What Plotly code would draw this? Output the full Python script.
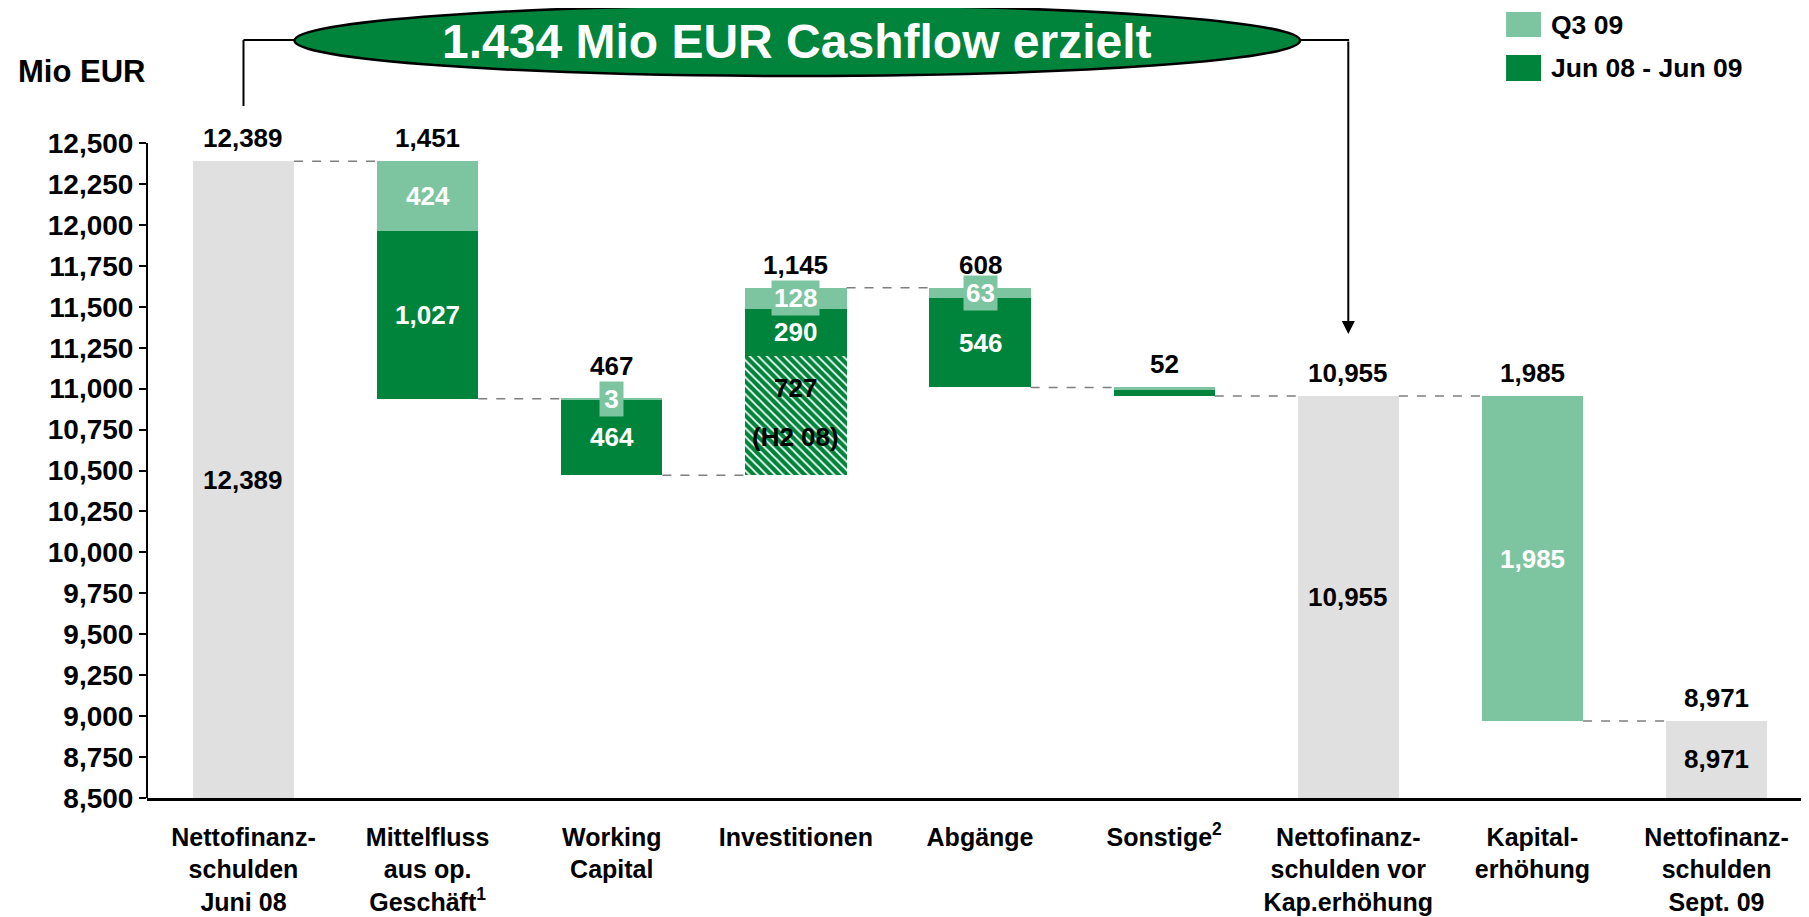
import plotly.graph_objects as go

# --- data ---
categories = [
    "Nettofinanz-<br>schulden<br>Juni 08",
    "Mittelfluss<br>aus op.<br>Geschäft<sup>1</sup>",
    "Working<br>Capital",
    "Investitionen",
    "Abgänge",
    "Sonstige<sup>2</sup>",
    "Nettofinanz-<br>schulden vor<br>Kap.erhöhung",
    "Kapital-<br>erhöhung",
    "Nettofinanz-<br>schulden<br>Sept. 09",
]
kind = ["total", "change", "change", "change", "change", "change", "total", "change", "total"]
totals = [12389, None, None, None, None, None, 10955, None, 8971]
direction = [0, -1, -1, 1, -1, -1, 0, -1, 0]
q3_09 = [0, 424, 3, 128, 63, 14, 0, 1985, 0]
jun08_jun09 = [0, 1027, 464, 290, 546, 38, 0, 0, 0]
h2_08 = [0, 0, 0, 727, 0, 0, 0, 0, 0]
change_labels = ["", "1,451", "467", "1,145", "608", "52", "", "1,985", ""]
total_labels = ["12,389", "", "", "", "", "", "10,955", "", "8,971"]
y_ticks = list(range(8500, 12501, 250))

GRAY = "#e0e0e0"
DARK = "#00833b"
LIGHT = "#7dc5a0"
FONT = "Liberation Sans, Arial, sans-serif"
AXIS_MIN = 8500
BAR_W = 0.55

# walk the waterfall
n = len(categories)
tops, bottoms, ends = [], [], []
level = None
for i in range(n):
    if kind[i] == "total":
        tops.append(totals[i])
        bottoms.append(AXIS_MIN)
        level = totals[i]
    else:
        step = q3_09[i] + jun08_jun09[i] + h2_08[i]
        new = level + direction[i] * step
        tops.append(max(level, new))
        bottoms.append(min(level, new))
        level = new
    ends.append(level)

x = list(range(n))
fig = go.Figure()

tot_x = [i for i in x if kind[i] == "total"]
fig.add_trace(go.Bar(
    x=tot_x, y=[tops[i] - AXIS_MIN for i in tot_x], base=AXIS_MIN,
    width=BAR_W, marker=dict(color=GRAY, line=dict(width=0)),
    hoverinfo="skip", showlegend=False))

# hatched H2 08 part sits at the bottom
fig.add_trace(go.Bar(
    x=x, y=h2_08, base=bottoms, width=BAR_W,
    marker=dict(color=DARK, line=dict(width=0),
                pattern=dict(shape="\\", fgcolor="white", bgcolor=DARK,
                             size=6, solidity=0.3, fillmode="replace")),
    hoverinfo="skip", showlegend=False))

# Jun 08 - Jun 09 under the Q3 09 slice
fig.add_trace(go.Bar(
    x=x, y=jun08_jun09, base=[tops[i] - q3_09[i] - jun08_jun09[i] for i in x],
    width=BAR_W, marker=dict(color=DARK, line=dict(width=0)),
    hoverinfo="skip", showlegend=False))

fig.add_trace(go.Bar(
    x=x, y=q3_09, base=[tops[i] - q3_09[i] for i in x],
    width=BAR_W, marker=dict(color=LIGHT, line=dict(width=0)),
    hoverinfo="skip", showlegend=False))

shapes = []
annotations = []

# dashed connectors between bars
for i in range(n - 1):
    shapes.append(dict(type="line", xref="x", yref="y",
                       x0=i + BAR_W / 2, x1=i + 1 - BAR_W / 2, y0=ends[i], y1=ends[i],
                       line=dict(color="#7f7f7f", width=1.5, dash="dash")))

# y axis line only from 8,500 to 12,500
shapes.append(dict(type="line", xref="paper", yref="y", x0=0, x1=0,
                   y0=y_ticks[0], y1=y_ticks[-1], line=dict(color="black", width=2)))


def lbl(xv, yv, text, color="black", yshift=0, bg=None):
    annotations.append(dict(
        x=xv, y=yv, xref="x", yref="y", text=f"<b>{text}</b>", showarrow=False,
        xanchor="center", yanchor="middle",
        font=dict(family=FONT, size=26, color=color),
        bgcolor=bg, borderpad=2, yshift=yshift))


for i in x:
    # value above the bar
    top_text = total_labels[i] or change_labels[i]
    shift = 33 if i == 2 else 23
    lbl(i, tops[i], top_text, yshift=shift)
    if kind[i] == "total":
        lbl(i, (tops[i] + bottoms[i]) / 2, total_labels[i])
        continue
    q_mid = tops[i] - q3_09[i] / 2
    j_mid = tops[i] - q3_09[i] - jun08_jun09[i] / 2
    if q3_09[i] >= 300:
        lbl(i, q_mid, f"{q3_09[i]:,}", color="white")
    elif q3_09[i] >= 3 and jun08_jun09[i] > 0 and i != 5:
        lbl(i, q_mid, f"&#8202;{q3_09[i]:,}&#8202;" if q3_09[i] < 10 else f"{q3_09[i]:,}",
            color="white", bg=LIGHT)
    if jun08_jun09[i] >= 200:
        lbl(i, j_mid, f"{jun08_jun09[i]:,}", color="white")
    if h2_08[i]:
        mid = bottoms[i] + h2_08[i] / 2
        lbl(i, mid, f"{h2_08[i]:,}", yshift=28)
        lbl(i, mid, "(H2 08)", yshift=-21)

# page body adds an 8px offset; positions below are screen px
OFF = 8
W, H = 1809 - OFF, 917 - OFF
PL, PR, PT, PB = 146.5 - OFF, W, 0, 798 - OFF


def px(xp):
    return (xp - OFF - PL) / (PR - PL)


def py(yp):
    return (PB - (yp - OFF)) / (PB - PT)


# banner
shapes.append(dict(type="circle", xref="paper", yref="paper",
                   x0=px(294), x1=px(1300), y0=py(76), y1=py(5),
                   fillcolor=DARK, line=dict(color="black", width=2.5)))
annotations.append(dict(x=px(797), y=py(41), xref="paper", yref="paper",
                        xanchor="center", yanchor="middle",
                        text="<b>1.434 Mio EUR Cashflow erzielt</b>", showarrow=False,
                        font=dict(family=FONT, size=48, color="white")))
shapes.append(dict(type="line", xref="x", yref="paper", x0=0, x1=0,
                   y0=py(40), y1=py(106), line=dict(color="black", width=2)))
shapes.append(dict(type="line", xref="paper", yref="paper", x0=px(243), x1=px(294),
                   y0=py(40), y1=py(40), line=dict(color="black", width=2)))
shapes.append(dict(type="line", xref="paper", yref="paper", x0=px(1300), x1=px(1349),
                   y0=py(40), y1=py(40), line=dict(color="black", width=2)))
annotations.append(dict(x=6, y=py(334), xref="x", yref="paper", ax=0, ay=-294,
                        text="", showarrow=True, arrowhead=2, arrowsize=1.3,
                        arrowwidth=2, arrowcolor="black", standoff=0))

annotations.append(dict(x=px(15), y=py(72), xref="paper", yref="paper",
                        xanchor="left", yanchor="middle",
                        text="<b>Mio EUR</b>", showarrow=False,
                        font=dict(family=FONT, size=31, color="black")))

# legend drawn by hand
for (y0, y1, col, name) in [(12, 37, LIGHT, "Q3 09"), (55, 81, DARK, "Jun 08 - Jun 09")]:
    shapes.append(dict(type="rect", xref="paper", yref="paper", x0=px(1506), x1=px(1541),
                       y0=py(y1), y1=py(y0), fillcolor=col, line=dict(width=0)))
    annotations.append(dict(x=px(1549), y=py((y0 + y1) / 2), xref="paper", yref="paper",
                            xanchor="left", yanchor="middle",
                            text=f"<b>{name}</b>", showarrow=False,
                            font=dict(family=FONT, size=26.5, color="black")))

fig.update_layout(
    width=W, height=H,
    margin=dict(l=PL, r=0, t=PT, b=H - PB, pad=0),
    plot_bgcolor="white", paper_bgcolor="white",
    barmode="overlay", bargap=0,
    font=dict(family=FONT, size=26, color="black"),
    shapes=shapes, annotations=annotations,
    xaxis=dict(range=[-0.524, 8.502], tickvals=x,
               ticktext=[f"<b>{c}</b>" for c in categories],
               showline=True, linecolor="black", linewidth=2.5,
               ticks="", showgrid=False, zeroline=False,
               tickfont=dict(family=FONT, size=25, color="black"),
               ticklabelstandoff=15),
    yaxis=dict(range=[AXIS_MIN, AXIS_MIN + (PB - PT) / 0.16375],
               tickvals=y_ticks, ticktext=[f"<b>{v:,}</b>" for v in y_ticks],
               ticks="outside", ticklen=7, tickwidth=1.5, tickcolor="black",
               showline=False, showgrid=False, zeroline=False,
               tickfont=dict(family=FONT, size=28, color="black"),
               ticklabelstandoff=0),
    showlegend=False,
)

fig.write_html("out.html")
